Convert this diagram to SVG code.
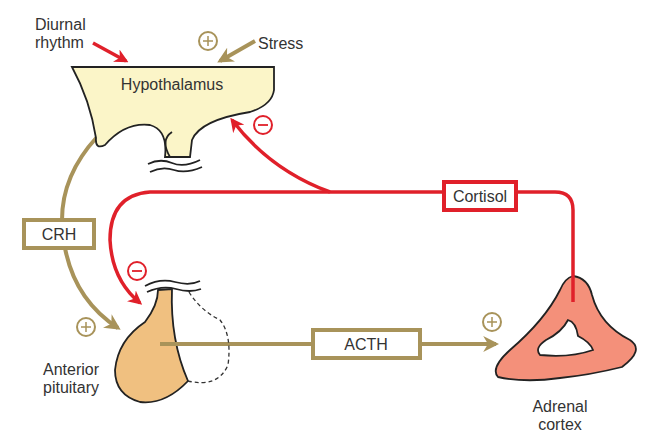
<svg xmlns="http://www.w3.org/2000/svg" width="652" height="441" viewBox="0 0 652 441">
<defs>
<style>
text{font-family:"Liberation Sans",Arial,sans-serif;font-size:16px;fill:#333}
.tan{stroke:#a8935a;stroke-width:4;fill:none}
.red{stroke:#e0202a;stroke-width:3.5;fill:none}
.org{stroke:#222;stroke-width:1.8}
.pc{fill:#fff;stroke:#a8935a;stroke-width:2}
.mc{fill:#fff;stroke:#e0202a;stroke-width:2}
</style>
<marker id="at" viewBox="0 0 10 10" refX="8" refY="5" markerWidth="4" markerHeight="4" orient="auto"><path d="M0,0L10,5L0,10L3,5z" fill="#a8935a"/></marker>
<marker id="ar" viewBox="0 0 10 10" refX="8" refY="5" markerWidth="4" markerHeight="4" orient="auto"><path d="M0,0L10,5L0,10L3,5z" fill="#e0202a"/></marker>
</defs>
<rect width="652" height="441" fill="#fff"/>
<g id="adrenal">
<path class="org" fill="#f4907a" fill-rule="evenodd" d="M573,276 Q588,278 592,295 Q600,325 630,340 Q645,350 622,367 Q590,375 560,378 Q525,383 498,377 Q490,368 510,350 Q545,320 560,290 Q565,278 573,276 Z M568,320 Q576,322 578,336 Q590,342 593,350 Q570,358 540,355 Q534,348 546,340 Q562,332 568,320 Z"/>
<text x="560" y="412" text-anchor="middle">Adrenal</text><text x="560" y="430" text-anchor="middle">cortex</text>
</g>
<g id="connectors">
<path class="red" d="M93,43 L126,61" marker-end="url(#ar)"/>
<path class="tan" d="M255,41 L220,61" marker-end="url(#at)"/>
<path class="tan" d="M97,137 Q62,175 62,220"/>
<path class="tan" d="M65,248 Q75,300 118,328" marker-end="url(#at)"/>
<path class="red" d="M330,192 Q270,170 232,120" marker-end="url(#ar)"/>
<path class="red" d="M444,192 H150 Q110,195 110,240 Q112,280 140,303" marker-end="url(#ar)"/>
<path class="red" d="M516,192 H555 Q573,192 573,210 V302"/>
<path class="tan" d="M160,344 H313 M420,344 H496" marker-end="url(#at)"/>
</g>
<g id="hypothalamus">
<path class="org" fill="#fbf5c8" d="M72,67 H274 V90 Q272,105 250,112 Q200,120 192,140 L190,157 L165,157 Q168,130 150,125 Q125,122 105,145 Q95,150 96,138 Q90,100 72,67 Z"/>
<path class="org" fill="none" d="M170,157 Q160,140 172,132"/>
<path class="org" fill="none" d="M148,164 Q160,158 172,163 T200,160 M150,172 Q162,166 174,170 T202,167"/>
<text x="172" y="90" text-anchor="middle">Hypothalamus</text>
</g>
<g id="labels">
<text x="35" y="30">Diurnal</text><text x="35" y="48">rhythm</text>
<text x="258" y="49">Stress</text>
<circle class="pc" cx="208" cy="41" r="9"/><path d="M203,41h10M208,36v10" stroke="#a8935a" stroke-width="1.5"/>
<circle class="mc" cx="263" cy="125" r="9"/><path d="M258,125h10" stroke="#e0202a" stroke-width="1.8"/>
<circle class="mc" cx="137" cy="271" r="9"/><path d="M132,271h10" stroke="#e0202a" stroke-width="1.8"/>
<circle class="pc" cx="86" cy="327" r="9"/><path d="M81,327h10M86,322v10" stroke="#a8935a" stroke-width="1.5"/>
<circle class="pc" cx="492" cy="322" r="9"/><path d="M487,322h10M492,317v10" stroke="#a8935a" stroke-width="1.5"/>
</g>
<g id="crh"><rect x="24" y="220" width="70" height="28" fill="#fff" stroke="#a8935a" stroke-width="4"/><text x="59" y="240" text-anchor="middle">CRH</text></g>
<g id="cortisol"><rect x="444" y="182" width="72" height="28" fill="#fff" stroke="#e0202a" stroke-width="4"/><text x="480" y="202" text-anchor="middle">Cortisol</text></g>
<g id="pituitary">
<path class="org" fill="none" d="M145,286 Q160,278 175,282 T200,281 M147,292 Q162,285 176,289 T201,289"/>
<path class="org" fill="#f0c080" d="M158,290 L172,289 Q170,340 188,381 Q165,405 140,402 Q115,395 115,370 Q118,340 145,322 Q158,305 158,290 Z"/>
<path fill="none" stroke="#333" stroke-width="1.3" stroke-dasharray="4,3" d="M189,292 Q200,310 220,320 Q232,335 228,365 Q218,388 188,381"/>
<path class="tan" d="M160,344 H190"/>
<text x="43" y="375">Anterior</text><text x="43" y="393">pituitary</text>
</g>
<g id="acth"><rect x="313" y="330" width="107" height="28" fill="#fff" stroke="#a8935a" stroke-width="4"/><text x="366" y="350" text-anchor="middle">ACTH</text></g>
</svg>
